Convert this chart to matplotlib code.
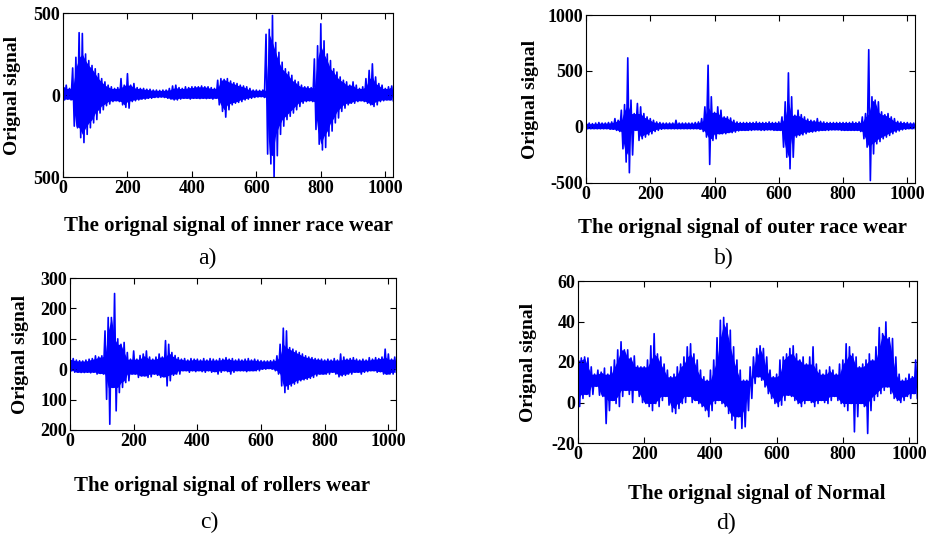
import numpy as np
import matplotlib
matplotlib.use('Agg')
import matplotlib.pyplot as plt

plt.rcParams['font.family'] = ['Liberation Serif', 'DejaVu Serif']

# envelope readings, one value every 10 samples (upper peak, then lower peak)
inner_hi = [55, 60, 40, 165, 230, 380, 375, 250, 210, 180,
            160, 130, 100, 80, 60, 50, 40, 45, 100, 60,
            130, 60, 70, 45, 40, 40, 35, 35, 30, 30,
            28, 30, 30, 40, 55, 60, 45, 40, 50, 45,
            50, 50, 50, 55, 50, 50, 45, 40, 90, 100,
            95, 100, 85, 75, 70, 60, 55, 50, 40, 30,
            30, 28, 30, 370, 400, 485, 320, 260, 200, 160,
            140, 120, 90, 80, 60, 50, 50, 45, 220, 300,
            434, 330, 250, 210, 160, 140, 110, 90, 80, 60,
            80, 60, 40, 50, 100, 150, 190, 110, 70, 60,
            40, 50, 55]
inner_lo = [-30, -25, -30, -190, -200, -260, -290, -240, -200, -170,
            -150, -110, -90, -65, -55, -40, -35, -40, -60, -75,
            -80, -40, -35, -30, -25, -25, -20, -20, -15, -15,
            -12, -15, -20, -25, -30, -30, -25, -20, -20, -25,
            -20, -20, -22, -20, -22, -20, -25, -20, -60, -100,
            -135, -90, -60, -50, -45, -40, -30, -25, -20, -15,
            -12, -10, -15, -360, -420, -500, -370, -240, -190, -150,
            -130, -110, -90, -70, -50, -40, -35, -40, -210, -300,
            -335, -320, -250, -220, -170, -140, -100, -80, -60, -50,
            -50, -40, -35, -40, -50, -60, -70, -60, -40, -35,
            -30, -30, -35]

outer_hi = [35, 35, 30, 35, 40, 35, 35, 40, 45, 75,
            60, 150, 200, 617, 240, 120, 210, 180, 120, 90,
            75, 60, 45, 40, 35, 35, 35, 35, 60, 35,
            35, 35, 35, 35, 40, 45, 75, 180, 551, 270,
            130, 180, 150, 90, 90, 80, 60, 45, 40, 40,
            40, 40, 40, 45, 40, 40, 40, 45, 40, 40,
            45, 90, 225, 483, 270, 105, 150, 110, 90, 70,
            60, 55, 75, 50, 45, 40, 40, 40, 40, 40,
            40, 40, 40, 45, 40, 45, 90, 120, 690, 270,
            240, 225, 135, 110, 120, 90, 75, 50, 45, 40,
            40, 35, 35]
outer_lo = [-15, -15, -15, -15, -15, -15, -15, -20, -20, -30,
            -40, -195, -313, -408, -250, -30, -120, -105, -90, -70,
            -60, -40, -30, -20, -15, -15, -15, -15, -15, -15,
            -15, -15, -15, -15, -15, -20, -40, -90, -334, -120,
            -105, -60, -60, -60, -50, -50, -45, -35, -30, -30,
            -30, -30, -25, -25, -30, -30, -25, -25, -30, -30,
            -30, -180, -270, -373, -270, -90, -75, -70, -60, -45,
            -45, -40, -35, -30, -30, -30, -25, -25, -25, -30,
            -30, -30, -30, -30, -30, -40, -105, -180, -478, -240,
            -150, -130, -105, -90, -75, -60, -45, -35, -25, -20,
            -15, -15, -15]

roller_hi = [33, 35, 30, 28, 27, 30, 33, 35, 44, 40,
             44, 126, 170, 170, 249, 100, 82, 88, 55, 33,
             60, 33, 45, 50, 60, 40, 33, 40, 50, 40,
             94, 82, 55, 45, 38, 33, 35, 30, 35, 33,
             33, 30, 35, 30, 35, 33, 30, 35, 33, 38,
             33, 35, 30, 33, 30, 33, 35, 30, 33, 30,
             28, 27, 27, 28, 30, 44, 82, 135, 126, 71,
             66, 60, 55, 50, 44, 40, 38, 35, 33, 33,
             30, 33, 30, 35, 30, 50, 40, 33, 35, 38,
             33, 30, 33, 30, 38, 33, 38, 35, 40, 66,
             50, 33, 40]
roller_lo = [-5, -10, -10, -11, -11, -10, -12, -10, -16, -14,
             -16, -99, -181, -60, -137, -77, -60, -44, -38, -16,
             -16, -27, -22, -22, -27, -25, -16, -20, -27, -25,
             -55, -38, -20, -16, -16, -5, -5, -10, -5, -8,
             -5, -8, -10, -5, -10, -8, -16, -10, -5, -8,
             -16, -10, -5, -5, -5, -8, -5, -5, -5, -5,
             0, 0, 2, 0, -5, -16, -55, -77, -66, -55,
             -49, -45, -38, -35, -33, -30, -27, -22, -16, -16,
             -16, -16, -10, -16, -25, -22, -20, -16, -16, -10,
             -10, -16, -10, -8, -5, -5, -10, -8, -16, -16,
             -16, -16, -10]

normal_hi = [21, 22, 22.5, 22, 17.6, 14, 16, 15, 17, 14,
             17.6, 21, 26, 30, 26, 26, 22, 23, 18, 17.6,
             17.6, 21, 28, 34, 24, 22.5, 19, 16, 12.7, 14,
             17.6, 19, 22.5, 27.5, 29, 24, 21, 16, 12.7, 11,
             16, 21, 32, 40.6, 42, 39, 35.7, 27.5, 21, 16,
             11, 11, 17.6, 22.5, 26.7, 28, 26.7, 22.5, 16, 12.7,
             14, 21, 22.5, 24, 26.7, 28, 24, 21, 22.5, 19,
             22.5, 27.5, 19, 16, 14, 16, 17.6, 16, 14, 19,
             21, 29, 27.5, 24, 22.5, 17.6, 19, 21, 24, 21,
             27.5, 37, 34, 39.8, 32, 31.6, 22.5, 14, 11, 12,
             14, 12.7, 21]
normal_lo = [-2, 2, 4, 3, 4, 8, 3.6, 3, -10.4, -4,
             1, -0.5, -2, 3, 6, 4, 0, 6, 3, 0,
             -0.5, -2, -4, -0.5, -2, 1, 3, -1.3, -4.6, -5.4,
             -3, -0.5, 0, 3, 0, 1, -0.5, -2, -4, -7,
             -4, -0.5, 1, -0.5, -2, -5.4, -8.7, -12.8, -7, -12.8,
             -12, -4, 2, 9.4, 12.7, 11, 7.7, 4.4, 2, -0.5,
             -2, -1.3, 1, 3.6, 3, 1, -0.5, -2, -0.5, 1,
             0, -2, -0.5, 1, 0, -0.5, 1, 3, 1, -0.5,
             -2, -4, -0.5, -14.5, -7, -0.5, -2, -15.3, -4, 1,
             3, 4.4, 6, 7.7, 4.4, 2, 1, 0, 1, 3,
             2, 4.4, 2]

x_ticks = [0, 200, 400, 600, 800, 1000]

panels = [
    # (hi, lo, yticks, yticklabels, xlabel, tag)
    (inner_hi, inner_lo, [-500, 0, 500], ['500', '0', '500'],
     'The orignal signal of inner race wear', 'a)'),
    (outer_hi, outer_lo, [-500, 0, 500, 1000], ['-500', '0', '500', '1000'],
     'The orignal signal of outer race wear', 'b)'),
    (roller_hi, roller_lo, [-200, -100, 0, 100, 200, 300],
     ['200', '100', '0', '100', '200', '300'],
     'The orignal signal of rollers wear', 'c)'),
    (normal_hi, normal_lo, [-20, 0, 20, 40, 60], ['-20', '0', '20', '40', '60'],
     'The orignal signal of Normal', 'd)'),
]

# pixel layout: axes left, top, right, bottom ; ylabel right edge x ; xlabel (x, y) ; tag (x, y)
W, H = 934, 537
boxes = [(63, 13, 393, 177, 21, (228, 226), (207, 258)),
         (586, 15, 915, 183, 539, (742, 228), (724, 258)),
         (70, 278, 396, 430, 29, (222, 486), (209, 522)),
         (578, 281, 917, 443, 537, (757, 494), (726, 523))]

fig = plt.figure(figsize=(W / 100, H / 100), dpi=100)

for (hi, lo, yt, ytl, xl, tag), (l, t, r, b, yx, lpos, tpos) in zip(panels, boxes):
    ax = fig.add_axes([l / W, 1 - b / H, (r - l) / W, (b - t) / H])
    hi = np.array(hi, dtype=float)
    lo = np.array(lo, dtype=float)
    sig = np.empty(2 * len(hi))
    sig[0::2] = hi
    sig[1::2] = lo
    xs = np.arange(len(sig)) * 5
    # dense core: the smaller of neighbouring peaks, so single spikes stay thin
    core_hi = np.minimum(hi, np.minimum(np.r_[hi[0], hi[:-1]], np.r_[hi[1:], hi[-1]]))
    core_lo = np.maximum(lo, np.maximum(np.r_[lo[0], lo[:-1]], np.r_[lo[1:], lo[-1]]))
    ax.fill_between(xs[0::2], core_hi, core_lo, color='#0000ff', linewidth=0)
    ax.plot(xs, sig, color='#0000ff', linewidth=1.2)
    ax.set_xlim(0, 1024)
    ax.set_ylim(yt[0], yt[-1])
    ax.set_xticks(x_ticks)
    ax.set_yticks(yt)
    ax.set_yticklabels(ytl)
    ax.tick_params(direction='in', top=True, right=True, length=4,
                   labelsize=13, pad=2)
    for lab in ax.get_xticklabels() + ax.get_yticklabels():
        lab.set_fontweight('bold')
    ax.set_ylabel('Orignal signal', fontsize=14, fontweight='bold')
    ax.yaxis.set_label_coords((yx - l) / (r - l), 0.5)
    fig.text(lpos[0] / W, 1 - lpos[1] / H, xl, ha='center', va='center',
             fontsize=15, fontweight='bold')
    fig.text(tpos[0] / W, 1 - tpos[1] / H, tag, ha='center', va='center',
             fontsize=17)

fig.savefig('out.png', dpi=100)
